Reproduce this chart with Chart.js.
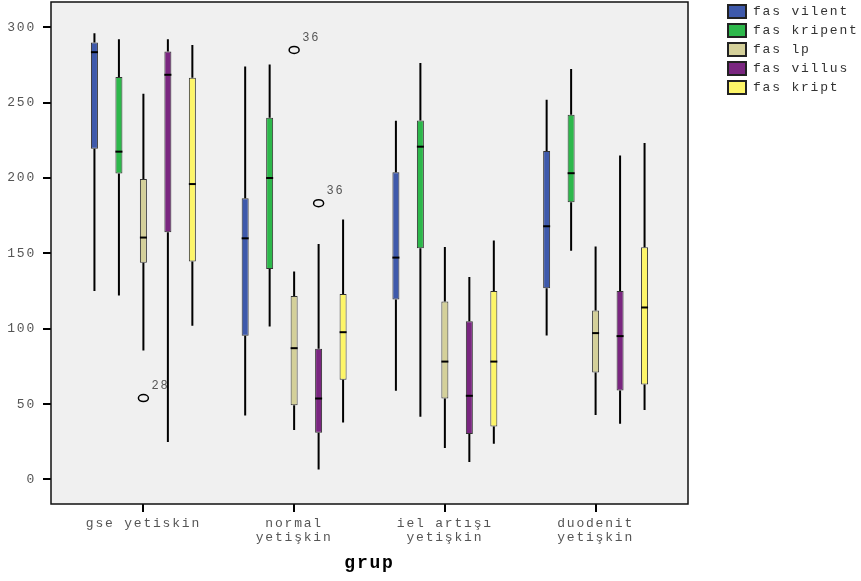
<!DOCTYPE html>
<html>
<head>
<meta charset="utf-8">
<script src="https://cdn.jsdelivr.net/npm/chart.js@4.4.1/dist/chart.umd.min.js"></script>
<style>
    body { margin: 0; background: #ffffff; }
    #wrap { position: relative; width: 861px; height: 581px; }
    #legend { position: absolute; left: 727px; top: 4px; font-family: "Liberation Mono", monospace; font-size: 13px; letter-spacing: 1.8px; color: #333; }
    .legend-item { height: 19px; display: flex; align-items: flex-start; }
    .legend-box { width: 16px; height: 11px; border: 2px solid #222; margin-right: 6px; }
    .legend-text { line-height: 16px; }
</style>
</head>
<body>
<div id="wrap">
    <canvas id="chart" width="861" height="581"></canvas>
    <div id="legend"></div>
</div>
<script>
// groups on the x axis
const groups = ['gse yetiskin', ['normal', 'yetişkin'], ['iel artışı', 'yetişkin'], ['duodenit', 'yetişkin']];
const seriesNames = ['fas vilent', 'fas kripent', 'fas lp', 'fas villus', 'fas kript'];
const yTicks = [0, 50, 100, 150, 200, 250, 300];

// each row: [min, q1, median, q3, max], one row per group
const vilent  = [[125, 219.5, 283.5, 290, 296], [42.4, 95.3, 160, 186.6, 274], [58.8, 119.4, 147.2, 203.8, 238], [95.5, 126.9, 168, 218, 252]];
const kripent = [[122, 203, 217.5, 267, 292], [101.5, 139.7, 200, 240, 275.4], [41.6, 153.4, 220.8, 238.1, 276.3], [151.7, 184, 203.2, 242, 272.3]];
const lp      = [[85.5, 143.7, 160.5, 199.4, 256], [32.8, 49.3, 87.1, 121.8, 138], [20.8, 53.7, 78.2, 118, 154.3], [42.7, 71, 97.1, 112.1, 154.5]];
const villus  = [[24.8, 164, 268.5, 284, 292], [6.6, 31, 53.7, 86.7, 156.3], [11.5, 30.1, 55.5, 105, 134.4], [36.9, 59, 95.1, 125.1, 215]];
const kript   = [[102, 144.6, 196, 266.6, 288.3], [37.8, 66.1, 97.7, 123.1, 172.4], [23.7, 35.1, 78.2, 125.1, 158.5], [46, 63, 114.1, 154.1, 223.3]];

// outliers
const outlierSeries = [2, 2, 3];
const outlierGroup  = [0, 1, 1];
const outlierValue  = [54, 285, 183.3];
const outlierLabel  = ['28', '36', '36'];

const seriesStats = [vilent, kripent, lp, villus, kript];
const colors = ['#3e59ab', '#2db84b', '#d4d09a', '#7a2680', '#fdf568'];

const monoFont = '"Liberation Mono", "Courier New", monospace';

const boxPlotPlugin = {
    id: 'boxPlot',
    beforeLayout(chart) {
        chart.ctx.letterSpacing = '1.8px';
    },
    beforeDraw(chart) {
        const {ctx, chartArea} = chart;
        ctx.letterSpacing = '1.8px';
        ctx.save();
        ctx.fillStyle = '#f0f0f0';
        ctx.fillRect(chartArea.left, chartArea.top, chartArea.right - chartArea.left, chartArea.bottom - chartArea.top);
        ctx.restore();
    },
    afterDatasetsDraw(chart) {
        const ctx = chart.ctx;
        const y = chart.scales.y;
        ctx.save();
        chart.data.datasets.forEach((ds, di) => {
            const meta = chart.getDatasetMeta(di);
            meta.data.forEach((bar, gi) => {
                const s = seriesStats[di][gi];
                const half = bar.width / 2;
                ctx.strokeStyle = '#000';
                ctx.lineWidth = 2;
                ctx.beginPath();
                ctx.moveTo(bar.x, y.getPixelForValue(s[0]));
                ctx.lineTo(bar.x, y.getPixelForValue(s[1]));
                ctx.moveTo(bar.x, y.getPixelForValue(s[3]));
                ctx.lineTo(bar.x, y.getPixelForValue(s[4]));
                ctx.stroke();
                const my = y.getPixelForValue(s[2]);
                ctx.beginPath();
                ctx.moveTo(bar.x - half, my);
                ctx.lineTo(bar.x + half, my);
                ctx.stroke();
            });
        });
        // outliers
        ctx.font = '12px ' + monoFont;
        ctx.textBaseline = 'middle';
        for (let i = 0; i < outlierValue.length; i++) {
            const bar = chart.getDatasetMeta(outlierSeries[i]).data[outlierGroup[i]];
            const py = y.getPixelForValue(outlierValue[i]);
            ctx.strokeStyle = '#000';
            ctx.lineWidth = 1.5;
            ctx.beginPath();
            ctx.ellipse(bar.x, py, 5, 3.5, 0, 0, Math.PI * 2);
            ctx.stroke();
            ctx.fillStyle = '#555';
            ctx.fillText(outlierLabel[i], bar.x + 8, py - 12);
        }
        ctx.restore();
    },
    afterDraw(chart) {
        const {ctx, chartArea} = chart;
        ctx.save();
        ctx.strokeStyle = '#111';
        ctx.lineWidth = 1.5;
        ctx.strokeRect(chartArea.left, chartArea.top, chartArea.right - chartArea.left, chartArea.bottom - chartArea.top);
        ctx.restore();
    }
};

const datasets = seriesNames.map((name, i) => ({
    label: name,
    data: seriesStats[i].map((s, gi) => ({ x: gi, y: [s[1], s[3]] })),
    backgroundColor: colors[i],
    borderColor: '#333',
    borderWidth: 1,
    borderSkipped: false,
    categoryPercentage: 0.812,
    barPercentage: 0.286
}));

new Chart(document.getElementById('chart'), {
    type: 'bar',
    data: { datasets: datasets },
    options: {
        responsive: false,
        animation: false,
        layout: { padding: { top: 2, right: 173, left: 0, bottom: 0 } },
        plugins: {
            legend: { display: false },
            tooltip: { enabled: false }
        },
        scales: {
            x: {
                type: 'linear',
                min: -0.613,
                max: 3.613,
                offset: false,
                afterBuildTicks: s => { s.ticks = groups.map((g, i) => ({ value: i })); },
                afterFit: s => { s.height = 77; s.paddingLeft = 0; s.paddingRight = 0; },
                grid: { offset: false, drawOnChartArea: false, tickLength: 8, color: '#000', lineWidth: 2 },
                border: { display: false },
                ticks: {
                    color: '#555',
                    padding: 5,
                    maxRotation: 0,
                    autoSkip: false,
                    font: { family: monoFont, size: 13, lineHeight: 1.05 },
                    callback: v => groups[v]
                },
                title: {
                    display: true,
                    text: 'grup',
                    color: '#000',
                    padding: { top: 0, bottom: 7 },
                    font: { family: monoFont, size: 18, weight: 'bold' }
                }
            },
            y: {
                min: -16.3,
                max: 316.8,
                afterBuildTicks: s => { s.ticks = yTicks.map(v => ({ value: v })); },
                afterFit: s => { s.width = 51; s.paddingTop = 0; s.paddingBottom = 0; },
                grid: { drawOnChartArea: false, tickLength: 8, color: '#000', lineWidth: 2 },
                border: { display: false },
                ticks: {
                    color: '#555',
                    padding: 7,
                    font: { family: monoFont, size: 13 }
                }
            }
        }
    },
    plugins: [boxPlotPlugin]
});

// legend
const legend = document.getElementById('legend');
seriesNames.forEach((name, i) => {
    const item = document.createElement('div');
    item.className = 'legend-item';
    const box = document.createElement('div');
    box.className = 'legend-box';
    box.style.background = colors[i];
    const text = document.createElement('span');
    text.className = 'legend-text';
    text.textContent = name;
    item.appendChild(box);
    item.appendChild(text);
    legend.appendChild(item);
});
</script>
</body>
</html>
